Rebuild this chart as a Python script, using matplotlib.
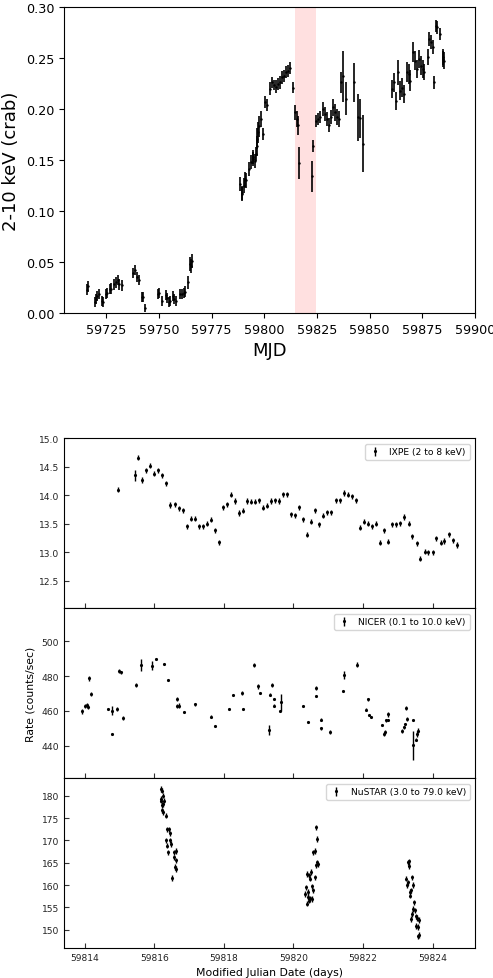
import numpy as np, matplotlib
matplotlib.use('Agg'); import matplotlib.pyplot as plt

# long-term light curve (crab units, 2-10 keV)
crab_mjd = [59716.06, 59716.53, 59719.57, 59720.04, 59720.80, 59721.75, 59722.89, 59723.51, 59724.93, 59725.41,
            59726.83, 59727.45, 59728.87, 59729.54, 59730.49, 59731.25, 59732.53, 59737.89, 59738.55, 59739.50,
            59740.45, 59741.88, 59742.49, 59743.59, 59749.47, 59750.09, 59751.37, 59753.27, 59754.03, 59754.83,
            59755.45, 59756.59, 59757.35, 59758.30, 59760.05, 59760.86, 59761.95, 59762.57, 59763.71, 59764.66,
            59765.13, 59765.61,
            59788.53, 59789.34, 59789.48, 59790.43, 59790.90, 59791.38, 59792.94, 59793.89, 59794.46, 59794.84,
            59795.51, 59796.13, 59796.46, 59796.74, 59797.07, 59797.69, 59798.50, 59799.30, 59800.54, 59801.20,
            59802.77, 59803.72, 59804.67, 59805.62, 59806.71, 59807.52, 59808.46, 59809.41, 59810.36, 59811.31,
            59812.26, 59813.54, 59814.63, 59815.44, 59815.82, 59816.67, 59822.56, 59823.32, 59824.60, 59825.69,
            59826.50, 59827.78, 59828.87, 59829.82, 59830.63, 59831.58, 59832.53, 59833.48, 59834.43, 59835.37,
            59836.47, 59837.56, 59838.84, 59842.64, 59844.68, 59845.49, 59846.76,
            59860.81, 59861.76, 59862.57, 59863.52, 59864.47, 59865.42, 59866.51, 59867.65, 59868.60, 59869.36,
            59870.50, 59871.45, 59872.40, 59873.63, 59874.44, 59875.24, 59876.00, 59877.76, 59878.37, 59879.18,
            59879.99, 59880.46, 59881.55, 59882.17, 59883.45, 59884.73, 59885.01, 59885.49]
crab_rate = [0.023, 0.026, 0.011, 0.014, 0.017, 0.019, 0.012, 0.011, 0.019, 0.020,
             0.0235, 0.024, 0.028, 0.030, 0.032, 0.028, 0.027, 0.039, 0.0425, 0.035,
             0.032, 0.016, 0.016, 0.005, 0.019, 0.020, 0.012, 0.018, 0.015, 0.011,
             0.012, 0.017, 0.014, 0.012, 0.019, 0.019, 0.020, 0.021, 0.030, 0.048,
             0.046, 0.051,
             0.1265, 0.118, 0.117, 0.125, 0.131, 0.130, 0.141, 0.148, 0.151, 0.153,
             0.149, 0.156, 0.164, 0.171, 0.177, 0.183, 0.190, 0.1755, 0.2065, 0.204,
             0.220, 0.226, 0.2235, 0.222, 0.2245, 0.226, 0.231, 0.2327, 0.236, 0.2376,
             0.240, 0.221, 0.1967, 0.190, 0.184, 0.147, 0.134, 0.164, 0.188, 0.190,
             0.192, 0.200, 0.195, 0.190, 0.184, 0.192, 0.2016, 0.1967, 0.192, 0.190,
             0.226, 0.232, 0.210, 0.226, 0.192, 0.191, 0.166,
             0.2196, 0.226, 0.208, 0.236, 0.218, 0.221, 0.2147, 0.236, 0.2343, 0.2278,
             0.2556, 0.2474, 0.239, 0.249, 0.2425, 0.239, 0.236, 0.2507, 0.2686, 0.2654,
             0.2605, 0.226, 0.2817, 0.280, 0.2732, 0.249, 0.2507, 0.2474]
crab_err = [0.005, 0.005, 0.005, 0.005, 0.005, 0.005, 0.005, 0.005, 0.005, 0.005,
            0.005, 0.005, 0.005, 0.005, 0.005, 0.005, 0.005, 0.005, 0.005, 0.005,
            0.005, 0.005, 0.005, 0.004, 0.005, 0.005, 0.005, 0.005, 0.005, 0.005,
            0.005, 0.005, 0.005, 0.005, 0.005, 0.005, 0.005, 0.005, 0.006, 0.007,
            0.007, 0.007,
            0.007, 0.007, 0.007, 0.007, 0.007, 0.007, 0.007, 0.007, 0.007, 0.007,
            0.007, 0.007, 0.010, 0.010, 0.010, 0.010, 0.008, 0.006, 0.006, 0.006,
            0.006, 0.005, 0.005, 0.006, 0.006, 0.006, 0.006, 0.006, 0.006, 0.006,
            0.006, 0.005, 0.007, 0.008, 0.009, 0.016, 0.015, 0.006, 0.006, 0.006,
            0.006, 0.007, 0.007, 0.007, 0.007, 0.007, 0.008, 0.008, 0.008, 0.008,
            0.010, 0.025, 0.016, 0.019, 0.023, 0.019, 0.028,
            0.009, 0.009, 0.009, 0.012, 0.009, 0.009, 0.009, 0.010, 0.010, 0.010,
            0.010, 0.009, 0.009, 0.009, 0.009, 0.009, 0.008, 0.008, 0.007, 0.007,
            0.007, 0.006, 0.006, 0.006, 0.006, 0.008, 0.008, 0.008]
span_lo, span_hi = 59814.4, 59824.7

# IXPE (2-8 keV)
ixpe_mjd = [59814.95, 59815.43, 59815.54, 59815.65, 59815.76, 59815.88, 59815.99, 59816.11, 59816.22, 59816.34,
            59816.45, 59816.59, 59816.70, 59816.82, 59816.93, 59817.05, 59817.16, 59817.28, 59817.39, 59817.51,
            59817.62, 59817.74, 59817.85, 59817.97, 59818.09, 59818.21, 59818.32, 59818.44, 59818.55, 59818.67,
            59818.78, 59818.90, 59819.01, 59819.13, 59819.25, 59819.36, 59819.46, 59819.58, 59819.71, 59819.82,
            59819.94, 59820.05, 59820.17, 59820.28, 59820.40, 59820.51, 59820.63, 59820.74, 59820.86, 59820.97,
            59821.09, 59821.21, 59821.33, 59821.45, 59821.56, 59821.68, 59821.79, 59821.91, 59822.02, 59822.14,
            59822.25, 59822.37, 59822.48, 59822.60, 59822.73, 59822.84, 59822.96, 59823.07, 59823.19, 59823.31,
            59823.42, 59823.54, 59823.65, 59823.77, 59823.88, 59824.00, 59824.11, 59824.23, 59824.34, 59824.47,
            59824.58, 59824.70]
ixpe_rate = [14.10, 14.35, 14.66, 14.27, 14.44, 14.52, 14.38, 14.44, 14.35, 14.21,
             13.83, 13.84, 13.77, 13.74, 13.46, 13.59, 13.59, 13.46, 13.46, 13.50,
             13.57, 13.39, 13.18, 13.79, 13.84, 14.01, 13.90, 13.69, 13.73, 13.90,
             13.89, 13.89, 13.91, 13.78, 13.82, 13.90, 13.91, 13.90, 14.02, 14.02,
             13.67, 13.65, 13.79, 13.58, 13.31, 13.54, 13.74, 13.49, 13.64, 13.70,
             13.70, 13.91, 13.91, 14.04, 14.01, 13.98, 13.91, 13.43, 13.54, 13.50,
             13.46, 13.50, 13.17, 13.39, 13.19, 13.49, 13.49, 13.51, 13.62, 13.50,
             13.28, 13.16, 12.89, 13.01, 13.00, 13.00, 13.25, 13.17, 13.20, 13.32,
             13.21, 13.13]
ixpe_err = [0.045, 0.09, 0.045, 0.045, 0.045, 0.045, 0.045, 0.045, 0.045, 0.045,
            0.045, 0.045, 0.045, 0.045, 0.045, 0.045, 0.045, 0.045, 0.045, 0.045,
            0.045, 0.045, 0.045, 0.045, 0.045, 0.045, 0.045, 0.045, 0.045, 0.045,
            0.045, 0.045, 0.045, 0.045, 0.045, 0.045, 0.045, 0.045, 0.045, 0.045,
            0.045, 0.045, 0.045, 0.045, 0.045, 0.045, 0.045, 0.045, 0.045, 0.045,
            0.045, 0.045, 0.045, 0.045, 0.045, 0.045, 0.045, 0.045, 0.045, 0.045,
            0.045, 0.045, 0.045, 0.045, 0.045, 0.045, 0.045, 0.045, 0.045, 0.045,
            0.045, 0.045, 0.045, 0.045, 0.045, 0.045, 0.045, 0.045, 0.045, 0.045,
            0.045, 0.045]

# NICER (0.1-10 keV)
nicer_mjd = [59813.93, 59814.00, 59814.05, 59814.08, 59814.13, 59814.19, 59814.66, 59814.77, 59814.79, 59814.91,
             59814.97, 59815.04, 59815.10, 59815.48, 59815.61, 59815.93, 59816.05, 59816.27, 59816.39, 59816.65,
             59816.66, 59816.72, 59816.86, 59817.17, 59817.62, 59817.75, 59818.15, 59818.27, 59818.53, 59818.54,
             59818.85, 59818.97, 59819.04, 59819.29, 59819.31, 59819.37, 59819.43, 59819.45, 59819.62, 59819.63,
             59820.26, 59820.41, 59820.65, 59820.66, 59820.78, 59820.80, 59821.05, 59821.43, 59821.45, 59821.83,
             59822.08, 59822.14, 59822.17, 59822.22, 59822.54, 59822.61, 59822.63, 59822.66, 59822.72, 59822.73,
             59823.13, 59823.17, 59823.22, 59823.24, 59823.25, 59823.43, 59823.45, 59823.51, 59823.56, 59823.58]
nicer_rate = [459.7, 463.0, 463.5, 462.5, 478.7, 469.7, 461.1, 446.9, 460.1, 461.1,
              483.1, 482.2, 456.1, 474.7, 486.5, 486.0, 489.8, 486.8, 477.6, 466.8,
              462.8, 463.0, 459.5, 463.9, 456.8, 451.1, 461.1, 469.3, 470.4, 461.1,
              486.4, 474.1, 470.3, 449.0, 469.3, 475.1, 466.8, 463.0, 459.8, 464.9,
              463.0, 453.4, 468.5, 473.3, 454.9, 450.1, 447.7, 471.6, 480.8, 486.5,
              460.7, 466.8, 457.6, 456.5, 452.0, 446.7, 448.0, 454.7, 454.8, 458.0,
              448.6, 450.5, 452.3, 461.8, 455.3, 454.9, 440.4, 443.4, 446.7, 448.6]
nicer_err = [1.5, 1.2, 1.2, 1.2, 1.2, 1.2, 0.6, 0.6, 2.5, 1.0,
             1.2, 1.0, 1.2, 1.2, 3.5, 2.5, 0.6, 0.6, 0.6, 1.0,
             1.0, 1.5, 0.6, 0.8, 0.6, 0.6, 0.6, 0.6, 1.2, 0.8,
             1.2, 1.2, 0.6, 3.0, 0.8, 1.2, 0.6, 0.8, 0.6, 5.0,
             0.6, 0.6, 0.6, 1.2, 0.8, 0.8, 1.2, 0.6, 2.2, 1.5,
             0.8, 0.8, 0.6, 0.6, 0.6, 1.0, 1.0, 0.8, 0.8, 1.5,
             1.2, 0.8, 0.6, 1.0, 1.0, 0.6, 8.3, 0.8, 1.5, 1.5]

# NuSTAR (3-79 keV)
nustar_mjd = [59816.18, 59816.19, 59816.20, 59816.21, 59816.22, 59816.23, 59816.24, 59816.25, 59816.26, 59816.28,
              59816.32, 59816.34, 59816.35, 59816.37, 59816.38, 59816.41, 59816.44, 59816.46, 59816.49, 59816.52,
              59816.55, 59816.56, 59816.59, 59816.61, 59816.62, 59816.63,
              59820.34, 59820.36, 59820.38, 59820.40, 59820.41, 59820.43, 59820.44, 59820.45, 59820.47, 59820.48,
              59820.51, 59820.52, 59820.53, 59820.55, 59820.57, 59820.61, 59820.62, 59820.65, 59820.66, 59820.67,
              59820.68, 59820.70,
              59823.24, 59823.25, 59823.28, 59823.29, 59823.31, 59823.33, 59823.34, 59823.36, 59823.38, 59823.39,
              59823.40, 59823.41, 59823.43, 59823.45, 59823.46, 59823.49, 59823.52, 59823.53, 59823.56, 59823.57,
              59823.58, 59823.60, 59823.61]
nustar_rate = [181.5, 179.3, 178.9, 176.7, 181.1, 177.9, 178.1, 176.3, 180.0, 178.9,
               170.0, 175.5, 168.8, 172.5, 167.3, 172.5, 170.0, 171.6, 169.2, 161.6,
               166.2, 167.3, 164.0, 165.5, 167.6, 163.6,
               158.0, 159.5, 155.8, 162.5, 157.3, 158.4, 156.5, 162.2, 161.4, 157.0,
               162.9, 159.7, 156.9, 158.8, 167.3, 167.6, 161.7, 172.9, 164.4, 165.1,
               170.3, 164.6,
               161.4, 160.0, 165.1, 160.6, 165.3, 164.3, 157.6, 158.4, 158.8, 152.4,
               161.7, 153.5, 154.6, 160.0, 156.1, 154.3, 153.0, 150.8, 152.6, 148.5,
               150.6, 148.8, 152.2]
nustar_err = [0.6, 0.6, 0.6, 0.6, 0.6, 0.6, 0.6, 0.6, 0.6, 0.6,
              0.6, 0.6, 0.6, 0.6, 0.6, 0.6, 0.6, 0.6, 0.6, 0.6,
              0.6, 0.6, 0.6, 0.6, 0.6, 0.6,
              0.6, 0.6, 0.6, 0.6, 0.6, 0.6, 0.6, 0.6, 0.6, 0.6,
              0.6, 0.6, 0.6, 0.6, 0.6, 0.6, 0.6, 0.6, 0.6, 0.6,
              0.6, 0.6,
              0.6, 0.6, 0.6, 0.6, 0.6, 0.6, 0.6, 0.6, 0.6, 0.6,
              0.6, 0.6, 0.6, 0.6, 0.6, 0.6, 0.6, 0.6, 0.6, 0.6,
              0.6, 0.6, 0.6]

W, H = 493, 979
fig = plt.figure(figsize=(W/100, H/100), dpi=100)
L, R = 64/W, 475/W

# ---- top: long-term monitoring ----
ax0 = fig.add_axes([L, 1-314/H, R-L, 306/H])
ax0.axvspan(span_lo, span_hi, color='red', alpha=0.12, lw=0)
ax0.errorbar(crab_mjd, crab_rate, yerr=crab_err, fmt='.', color='k', ms=1.5, elinewidth=1.2, capsize=0)
ax0.set_xlim(59705, 59900); ax0.set_ylim(0, 0.30)
ax0.set_xticks(np.arange(59725, 59901, 25))
ax0.set_yticks(np.arange(0, 0.301, 0.05))
ax0.yaxis.set_major_formatter(matplotlib.ticker.FormatStrFormatter('%.2f'))
ax0.ticklabel_format(axis='x', useOffset=False)
ax0.tick_params(labelsize=9.2)
ax0.set_xlabel('MJD', fontsize=13)
ax0.set_ylabel('2-10 keV (crab)', fontsize=13)

# ---- bottom: stacked light curves ----
tops = [439.3, 609.3, 779.3, 949.0]
series = [(ixpe_mjd, ixpe_rate, ixpe_err, 'IXPE (2 to 8 keV)', (12.02, 15.0), [12.5, 13.0, 13.5, 14.0, 14.5, 15.0]),
          (nicer_mjd, nicer_rate, nicer_err, 'NICER (0.1 to 10.0 keV)', (421.3, 519), [440, 460, 480, 500]),
          (nustar_mjd, nustar_rate, nustar_err, 'NuSTAR (3.0 to 79.0 keV)', (145.9, 183.9), [150, 155, 160, 165, 170, 175, 180])]
axes = []
for i, (t, r, e, lab, yl, yt) in enumerate(series):
    ax = fig.add_axes([L, 1-tops[i+1]/H, R-L, (tops[i+1]-tops[i])/H])
    ax.errorbar(t, r, yerr=e, fmt='.', color='k', ms=2.5, elinewidth=1, capsize=0, label=lab)
    ax.set_xlim(59813.4, 59825.22); ax.set_ylim(*yl)
    ax.set_yticks(yt)
    ax.set_xticks(np.arange(59814, 59825, 2))
    ax.ticklabel_format(axis='x', useOffset=False)
    ax.tick_params(direction='in', labelsize=6.6, colors='#333333', labelcolor='#222222')
    ax.legend(loc='upper right', fontsize=6.6, handlelength=1.5, borderaxespad=0.6)
    if i < 2:
        ax.tick_params(labelbottom=False)
    axes.append(ax)
axes[1].set_ylabel('Rate (counts/sec)', fontsize=7.8)
axes[2].set_xlabel('Modified Julian Date (days)', fontsize=7.8)

fig.savefig('out.png', dpi=100)
